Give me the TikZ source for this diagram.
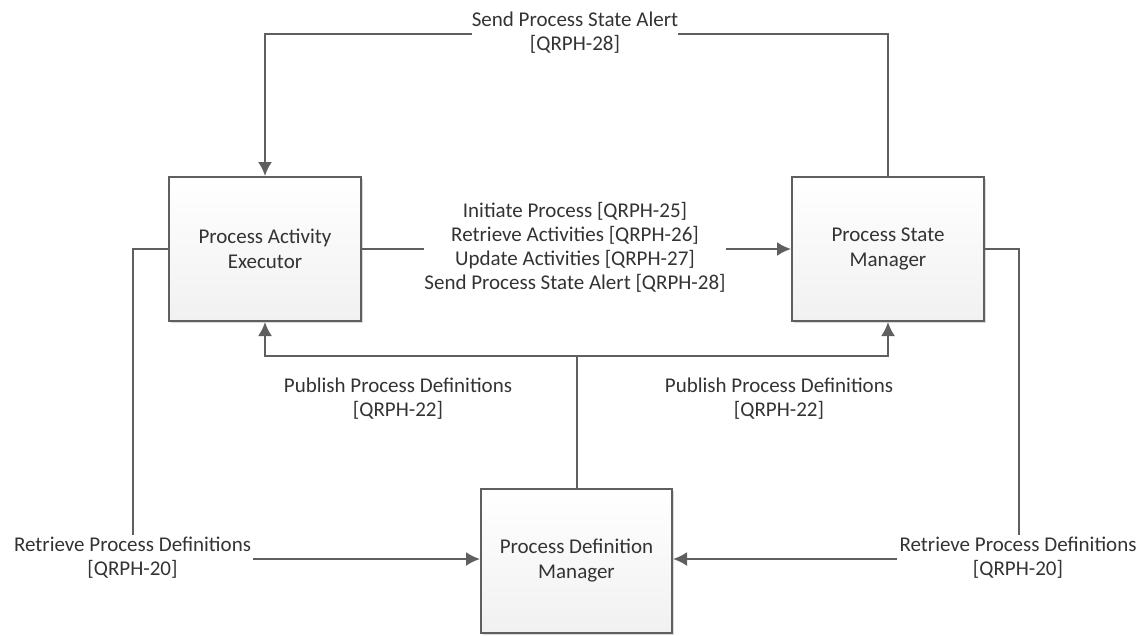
\documentclass[tikz,border=0pt]{standalone}
\usepackage{fontspec}
\setmainfont{Carlito}
\usetikzlibrary{arrows.meta,shadows,calc}
\definecolor{lc}{HTML}{5F5F5F}
\definecolor{tc}{HTML}{333333}
\tikzset{
  blk/.style={draw=lc, line width=2pt, minimum width=192pt, minimum height=144pt,
    top color=white, bottom color=gray!11, align=center, text=tc,
    font=\fontsize{21}{25}\selectfont,
    drop shadow={opacity=0.3, shadow xshift=2pt, shadow yshift=-2pt}},
  lbl/.style={align=center, text=tc, font=\fontsize{21}{24}\selectfont, inner sep=0pt},
  conn/.style={draw=lc, line width=2pt},
  arr/.style={conn, -{Latex[length=14pt,width=14pt]}},
}
\begin{document}
\begin{tikzpicture}[x=1pt,y=-1pt]
\useasboundingbox (0,0) rectangle (1148,635);
\node[blk] (pae) at (265,249) {Process Activity\\Executor};
\node[blk] (psm) at (888,249) {Process State\\Manager};
\node[blk, minimum width=191pt] (pdm) at (576.5,561) {Process Definition\\Manager};
% top
\node[lbl] (top) at (575,33) {Send Process State Alert\\{}[QRPH-28]};
\draw[arr] (top.west |- 0,34) -| (pae.north);
\draw[conn] (psm.north) |- (top.east |- 0,34);
% middle
\node[lbl] (mid) at (575,247) {Initiate Process [QRPH-25]\\Retrieve Activities [QRPH-26]\\Update Activities [QRPH-27]\\Send Process State Alert [QRPH-28]};
\draw[conn] (pae.east) -- (mid.west |- pae.east);
\draw[arr] (mid.east |- psm.west) -- (psm.west);
% publish
\coordinate (j) at (577,356);
\draw[conn] (pdm.north -| j) -- (j);
\draw[arr] (j) -| (pae.south);
\draw[arr] (j) -| (psm.south);
\node[lbl] (publ) at (398,399) {Publish Process Definitions\\{}[QRPH-22]};
\node[lbl] (pubr) at (779,399) {Publish Process Definitions\\{}[QRPH-22]};
% retrieve left
\node[lbl] (retl) at (132.5,558) {Retrieve Process Definitions\\{}[QRPH-20]};
\coordinate (cl) at (133,249);
\draw[conn] (pae.west |- cl) -- (cl) -- (cl |- 0,535);
\draw[arr] ($(retl.east |- 0,559)+(2,0)$) -- (pdm.west |- 0,559);
% retrieve right
\node[lbl] (retr) at (1018,558) {Retrieve Process Definitions\\{}[QRPH-20]};
\coordinate (cr) at (1019,249);
\draw[conn] (psm.east |- cr) -- (cr) -- (cr |- 0,535);
\draw[arr] ($(retr.west |- 0,559)+(-2,0)$) -- (pdm.east |- 0,559);
\end{tikzpicture}
\end{document}
